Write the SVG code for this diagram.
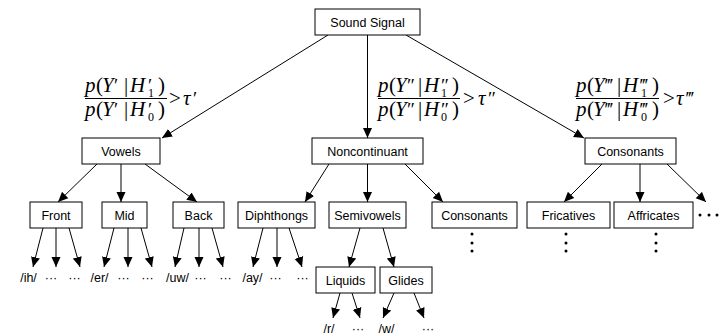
<svg xmlns="http://www.w3.org/2000/svg" width="722" height="335" viewBox="0 0 722 335">
<style>
.box{fill:#fff;stroke:#000;stroke-width:1}
.lbl{font-family:"Liberation Sans",Arial,sans-serif;font-size:12.5px;text-anchor:middle;fill:#000}
.math{font-family:"Liberation Serif","Times New Roman",serif;font-size:21px;fill:#000}
.i{font-style:italic}
.sub{font-family:"Liberation Serif","Times New Roman",serif;font-size:12px;fill:#000}
.pr{font-family:"Liberation Serif","Times New Roman",serif;font-size:19px;fill:#000}
.edge{stroke:#000;stroke-width:1;fill:none;marker-end:url(#ah)}
.dot{fill:#000}
</style>
<defs>
<marker id="ah" markerUnits="userSpaceOnUse" markerWidth="10" markerHeight="10" refX="10" refY="5" orient="auto">
<path d="M0,0.5 L10,5 L0,9.5 z" fill="#000"/>
</marker>
</defs>
<rect width="722" height="335" fill="#fff"/>

<g id="connectors">
<line class="edge" x1="328" y1="35" x2="162" y2="138"/>
<line class="edge" x1="367.5" y1="35" x2="367.5" y2="138"/>
<line class="edge" x1="406" y1="35" x2="584" y2="138"/>
<line class="edge" x1="97" y1="164" x2="58" y2="202"/>
<line class="edge" x1="121" y1="164" x2="121" y2="202"/>
<line class="edge" x1="145" y1="164" x2="197" y2="202"/>
<line class="edge" x1="329" y1="164" x2="305" y2="202"/>
<line class="edge" x1="367.5" y1="164" x2="367.5" y2="202"/>
<line class="edge" x1="405" y1="164" x2="443" y2="202"/>
<line class="edge" x1="602" y1="164" x2="564" y2="202"/>
<line class="edge" x1="640" y1="164" x2="640" y2="202"/>
<line class="edge" x1="667" y1="164" x2="706" y2="202"/>
<line class="edge" x1="43" y1="228" x2="33" y2="267"/>
<line class="edge" x1="56" y1="228" x2="56" y2="267"/>
<line class="edge" x1="69" y1="228" x2="80" y2="267"/>
<line class="edge" x1="114" y1="228" x2="104" y2="267"/>
<line class="edge" x1="128" y1="228" x2="128" y2="267"/>
<line class="edge" x1="141" y1="228" x2="152" y2="267"/>
<line class="edge" x1="184" y1="228" x2="175" y2="267"/>
<line class="edge" x1="199" y1="228" x2="199" y2="267"/>
<line class="edge" x1="212" y1="228" x2="223" y2="267"/>
<line class="edge" x1="263" y1="228" x2="253" y2="267"/>
<line class="edge" x1="277" y1="228" x2="277" y2="267"/>
<line class="edge" x1="289" y1="228" x2="302" y2="267"/>
<line class="edge" x1="360" y1="228" x2="349" y2="267"/>
<line class="edge" x1="383" y1="228" x2="394" y2="267"/>
<line class="edge" x1="340" y1="293" x2="333" y2="318"/>
<line class="edge" x1="352" y1="293" x2="360" y2="318"/>
<line class="edge" x1="394" y1="293" x2="383" y2="318"/>
<line class="edge" x1="414" y1="293" x2="424" y2="318"/>
</g>

<g id="n-sound"><rect class="box" x="315" y="9" width="105" height="26"/><text class="lbl" x="367.5" y="26.5">Sound Signal</text></g>
<g id="n-vowels"><rect class="box" x="82" y="138" width="78" height="26"/><text class="lbl" x="121" y="155.5">Vowels</text></g>
<g id="n-noncont"><rect class="box" x="312" y="138" width="111" height="26"/><text class="lbl" x="367.5" y="155.5">Noncontinuant</text></g>
<g id="n-consonants"><rect class="box" x="585" y="138" width="91" height="26"/><text class="lbl" x="630.5" y="155.5">Consonants</text></g>
<g id="n-front"><rect class="box" x="30" y="202" width="52" height="26"/><text class="lbl" x="56" y="219.5">Front</text></g>
<g id="n-mid"><rect class="box" x="102" y="202" width="45" height="26"/><text class="lbl" x="124.5" y="219.5">Mid</text></g>
<g id="n-back"><rect class="box" x="173" y="202" width="51" height="26"/><text class="lbl" x="198.5" y="219.5">Back</text></g>
<g id="n-diph"><rect class="box" x="238" y="202" width="77" height="26"/><text class="lbl" x="276.5" y="219.5">Diphthongs</text></g>
<g id="n-semi"><rect class="box" x="329" y="202" width="77" height="26"/><text class="lbl" x="367.5" y="219.5">Semivowels</text></g>
<g id="n-cons2"><rect class="box" x="432" y="202" width="85" height="26"/><text class="lbl" x="474.5" y="219.5">Consonants</text></g>
<g id="n-fric"><rect class="box" x="527" y="202" width="83" height="26"/><text class="lbl" x="568.5" y="219.5">Fricatives</text></g>
<g id="n-affr"><rect class="box" x="614" y="202" width="79" height="26"/><text class="lbl" x="653.5" y="219.5">Affricates</text></g>
<g id="n-liquids"><rect class="box" x="316" y="267" width="59" height="26"/><text class="lbl" x="345.5" y="284.5">Liquids</text></g>
<g id="n-glides"><rect class="box" x="380" y="267" width="52" height="26"/><text class="lbl" x="406" y="284.5">Glides</text></g>

<g id="leaves">
<text class="lbl" x="28.5" y="282">/ih/</text>
<text class="lbl" x="51" y="282">···</text>
<text class="lbl" x="74.5" y="282">···</text>
<text class="lbl" x="99.5" y="282">/er/</text>
<text class="lbl" x="123.5" y="282">···</text>
<text class="lbl" x="147.5" y="282">···</text>
<text class="lbl" x="177.5" y="282">/uw/</text>
<text class="lbl" x="200.5" y="282">···</text>
<text class="lbl" x="225.5" y="282">···</text>
<text class="lbl" x="252.5" y="282">/ay/</text>
<text class="lbl" x="275.5" y="282">···</text>
<text class="lbl" x="302.5" y="282">···</text>
<text class="lbl" x="329" y="333">/r/</text>
<text class="lbl" x="358" y="333">···</text>
<text class="lbl" x="386.5" y="333">/w/</text>
<text class="lbl" x="428" y="333">···</text>
</g>

<g id="ellipsis-dots">
<circle class="dot" cx="472" cy="234" r="1.5"/><circle class="dot" cx="472" cy="243" r="1.5"/><circle class="dot" cx="472" cy="251" r="1.5"/>
<circle class="dot" cx="566" cy="234" r="1.5"/><circle class="dot" cx="566" cy="243" r="1.5"/><circle class="dot" cx="566" cy="251" r="1.5"/>
<circle class="dot" cx="656" cy="234" r="1.5"/><circle class="dot" cx="656" cy="243" r="1.5"/><circle class="dot" cx="656" cy="251" r="1.5"/>
<circle class="dot" cx="700" cy="215" r="1.5"/><circle class="dot" cx="709" cy="215" r="1.5"/><circle class="dot" cx="717" cy="215" r="1.5"/>
</g>

<g id="cond1">
<text class="math" y="92"><tspan class="i" x="85">p</tspan><tspan x="96">(</tspan><tspan class="i" x="102">Y</tspan><tspan class="pr" x="114">′</tspan><tspan x="124">|</tspan><tspan class="i" x="130">H</tspan><tspan class="pr" x="148">′</tspan><tspan x="158">)</tspan></text>
<text class="sub" x="148" y="97">1</text>
<line x1="85" y1="98.5" x2="167" y2="98.5" stroke="#000" stroke-width="1"/>
<text class="math" y="116"><tspan class="i" x="85">p</tspan><tspan x="96">(</tspan><tspan class="i" x="102">Y</tspan><tspan class="pr" x="114">′</tspan><tspan x="124">|</tspan><tspan class="i" x="130">H</tspan><tspan class="pr" x="148">′</tspan><tspan x="158">)</tspan></text>
<text class="sub" x="148" y="121">0</text>
<text class="math" x="169" y="105">&gt;</text>
<text class="math" y="105"><tspan class="i" x="183">τ</tspan><tspan class="pr" x="193">′</tspan></text>
</g>

<g id="cond2">
<text class="math" y="92"><tspan class="i" x="378">p</tspan><tspan x="389">(</tspan><tspan class="i" x="395">Y</tspan><tspan class="pr" x="407">″</tspan><tspan x="418">|</tspan><tspan class="i" x="424">H</tspan><tspan class="pr" x="441">″</tspan><tspan x="452">)</tspan></text>
<text class="sub" x="441" y="97">1</text>
<line x1="378" y1="98.5" x2="460" y2="98.5" stroke="#000" stroke-width="1"/>
<text class="math" y="116"><tspan class="i" x="378">p</tspan><tspan x="389">(</tspan><tspan class="i" x="395">Y</tspan><tspan class="pr" x="407">″</tspan><tspan x="418">|</tspan><tspan class="i" x="424">H</tspan><tspan class="pr" x="441">″</tspan><tspan x="452">)</tspan></text>
<text class="sub" x="441" y="121">0</text>
<text class="math" x="463" y="105">&gt;</text>
<text class="math" y="105"><tspan class="i" x="478">τ</tspan><tspan class="pr" x="488">″</tspan></text>
</g>

<g id="cond3">
<text class="math" y="92"><tspan class="i" x="576">p</tspan><tspan x="587">(</tspan><tspan class="i" x="593">Y</tspan><tspan class="pr" x="605">‴</tspan><tspan x="617">|</tspan><tspan class="i" x="623">H</tspan><tspan class="pr" x="640">‴</tspan><tspan x="652">)</tspan></text>
<text class="sub" x="641" y="97">1</text>
<line x1="576" y1="98.5" x2="659" y2="98.5" stroke="#000" stroke-width="1"/>
<text class="math" y="116"><tspan class="i" x="576">p</tspan><tspan x="587">(</tspan><tspan class="i" x="593">Y</tspan><tspan class="pr" x="605">‴</tspan><tspan x="617">|</tspan><tspan class="i" x="623">H</tspan><tspan class="pr" x="640">‴</tspan><tspan x="652">)</tspan></text>
<text class="sub" x="641" y="121">0</text>
<text class="math" x="663" y="105">&gt;</text>
<text class="math" y="105"><tspan class="i" x="676">τ</tspan><tspan class="pr" x="686">‴</tspan></text>
</g>
</svg>
